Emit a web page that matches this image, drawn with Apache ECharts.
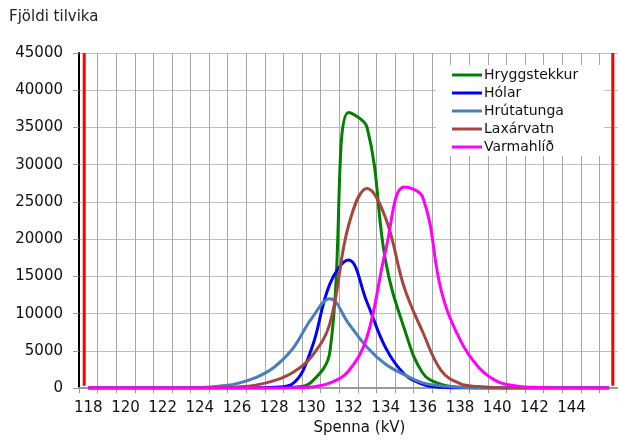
<!DOCTYPE html>
<html>
<head>
<meta charset="utf-8">
<script src="https://cdn.jsdelivr.net/npm/echarts@6/dist/echarts.min.js"></script>
<style>
  html, body { margin: 0; padding: 0; background: #fff; }
  #chart { width: 618px; height: 441px; }
</style>
</head>
<body>
<div id="chart"></div>
<script>
// spenna (kV) flokkar
const categories = ["118", "119", "120", "121", "122", "123", "124", "125", "126", "127",
  "128", "129", "130", "131", "132", "133", "134", "135", "136", "137",
  "138", "139", "140", "141", "142", "143", "144", "145", "146"];

// fjöldi tilvika fyrir hverja stöð
const hryggstekkur = [0, 0, 0, 0, 0, 0, 0, 0, 0, 0,
  0, 100, 800, 4900, 37000, 35000, 17000, 8000, 2000, 500,
  100, 0, 0, 0, 0, 0, 0, 0, 0];
const holar = [0, 0, 0, 0, 0, 0, 0, 0, 0, 0,
  100, 600, 5200, 14000, 17200, 11500, 5400, 1900, 500, 100,
  0, 0, 0, 0, 0, 0, 0, 0, 0];
const hrutatunga = [0, 0, 0, 0, 0, 20, 80, 250, 600, 1400,
  2800, 5300, 9300, 12000, 8700, 5500, 3200, 1800, 700, 300,
  100, 30, 0, 0, 0, 0, 0, 0, 0];
const laxarvatn = [0, 0, 0, 0, 0, 10, 30, 60, 150, 400,
  1000, 2100, 4200, 8700, 21800, 26800, 22800, 13500, 7500, 2300,
  600, 200, 50, 10, 0, 0, 0, 0, 0];
const varmahlid = [0, 0, 0, 0, 0, 0, 0, 0, 0, 0,
  10, 30, 150, 700, 2300, 6900, 18500, 27000, 25600, 13000,
  6500, 2800, 900, 300, 100, 30, 10, 0, 0];

// rauðu mörkin (kV)
const limits = [117.78, 146.22];
const limitTop = 45000;
const limitBottom = 300;

const names = ["Hryggstekkur", "Hólar", "Hrútatunga", "Laxárvatn", "Varmahlíð"];
const values = [hryggstekkur, holar, hrutatunga, laxarvatn, varmahlid];
const colors = ["#008000", "#0000ff", "#4a7ebb", "#a5463e", "#ff00ff"];

const font = "DejaVu Sans";
const myChart = echarts.init(document.getElementById("chart"));

const series = names.map((name, i) => ({
  name: name,
  type: "line",
  data: values[i],
  smooth: 0.4,
  showSymbol: false,
  color: colors[i],
  lineStyle: { width: 3, color: colors[i] },
  z: 3 + i,
}));

// mörkin sem lóðréttar línur
limits.forEach((x) => {
  series.push({
    name: "mork",
    type: "line",
    xAxisIndex: 1,
    data: [[x, limitTop], [x, limitBottom]],
    showSymbol: false,
    lineStyle: { width: 3, color: "#ff0000" },
    z: 2,
    silent: true,
  });
});

const option = {
  animation: false,
  backgroundColor: "#fff",
  textStyle: { fontFamily: font },
  title: {
    text: "Fjöldi tilvika",
    left: 9,
    top: 10,
    padding: 0,
    textStyle: { fontFamily: font, fontSize: 15, fontWeight: "normal", color: "#222" },
  },
  legend: {
    data: names,
    orient: "vertical",
    left: 436,
    top: 65,
    padding: [3, 26, 2, 16],
    backgroundColor: "#fff",
    itemWidth: 30,
    itemHeight: 3,
    itemGap: 4,
    icon: "rect",
    textStyle: { fontFamily: font, fontSize: 14, color: "#111", lineHeight: 14, padding: [0, 0, 0, -3] },
    z: 10,
  },
  grid: { left: 79, right: 0, top: 53, bottom: 47 },
  xAxis: [
    {
      type: "category",
      data: categories,
      boundaryGap: true,
      name: "Spenna (kV)",
      nameLocation: "middle",
      nameGap: 30,
      nameTextStyle: { fontFamily: font, fontSize: 15, color: "#111", padding: [0, 0, 0, 22] },
      axisLine: { lineStyle: { color: "#999", width: 2 } },
      axisTick: { show: true, interval: 0, length: 5, lineStyle: { color: "#999" } },
      axisLabel: {
        interval: (i) => i % 2 === 0 && i < categories.length - 1,
        margin: 13,
        fontFamily: font,
        fontSize: 15,
        color: "#111",
      },
      splitLine: { show: true, interval: 0, lineStyle: { color: "#a6a6a6", width: 1 } },
    },
    {
      type: "value",
      min: 117.5,
      max: 146.5,
      show: false,
    },
  ],
  yAxis: {
    type: "value",
    min: 0,
    max: 45000,
    interval: 5000,
    axisLine: { show: true, lineStyle: { color: "#000", width: 2 } },
    axisTick: { show: true, length: 6, lineStyle: { color: "#999" } },
    axisLabel: { margin: 16, fontFamily: font, fontSize: 15, color: "#111", formatter: (v) => String(v) },
    splitLine: { show: true, lineStyle: { color: "#bfbfbf", width: 1 } },
  },
  series: series,
};

myChart.setOption(option);
</script>
</body>
</html>
